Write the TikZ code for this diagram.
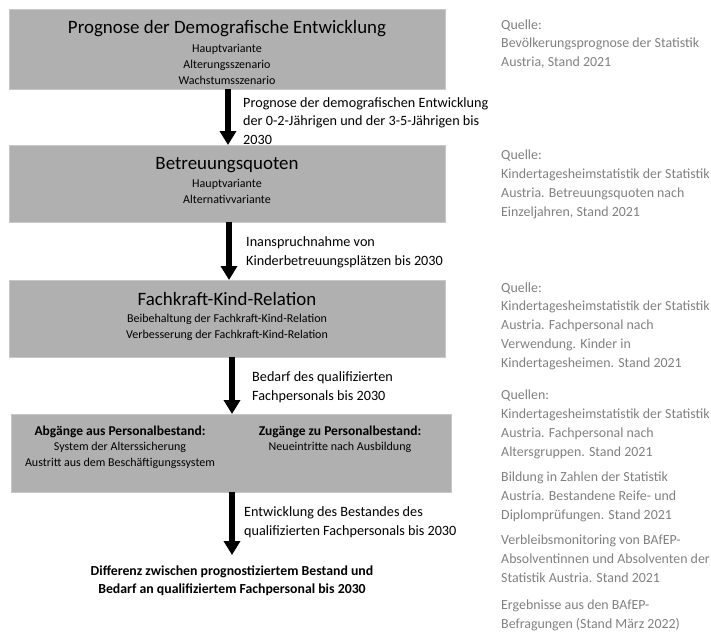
\documentclass[tikz,border=0pt]{standalone}
\usepackage{fontspec}
\setmainfont{Carlito}
\usetikzlibrary{arrows.meta}
\definecolor{boxgray}{RGB}{176,176,176}
\definecolor{srcgray}{RGB}{128,128,128}
\begin{document}
\begin{tikzpicture}[x=1pt,y=-1pt,
 box/.style={fill=boxgray, draw=boxgray!70!white, line width=0.6pt, inner sep=0pt, outer sep=0pt},
 ttl/.style={anchor=base, font=\fontsize{18.9}{22}\selectfont, inner sep=0pt},
 sub/.style={anchor=base, font=\fontsize{12}{16}\selectfont, inner sep=0pt, align=center},
 subb/.style={anchor=base, font=\fontsize{13.5}{16}\selectfont\bfseries, inner sep=0pt, align=center},
 lab/.style={anchor=base west, font=\fontsize{14.2}{18.2}\selectfont, inner sep=0pt, align=left},
 src/.style={anchor=base west, font=\fontsize{13.9}{18.7}\selectfont, text=srcgray, inner sep=0pt, align=left},
 flow/.style={line width=6pt, -{Triangle[width=16pt,length=14pt]}}]
\useasboundingbox (0,0) rectangle (711,633);
% boxes
\node[box, minimum width=436pt, minimum height=80pt] (b1) at (227,49) {};
\node[box, minimum width=436pt, minimum height=77pt] (b2) at (227,183.5) {};
\node[box, minimum width=436pt, minimum height=77pt] (b3) at (227,318.5) {};
\node[box, minimum width=440pt, minimum height=78pt] (b4) at (231,453) {};
% box texts (base anchor = baseline of last line)
\node[ttl] (t1) at (227,33) {Prognose der Demografische Entwicklung};
\node[sub] (s1) at (227,84) {Hauptvariante\\Alterungsszenario\\Wachstumsszenario};
\node[ttl] (t2) at (227,169) {Betreuungsquoten};
\node[sub] (s2) at (227,203) {Hauptvariante\\Alternativvariante};
\node[ttl] (t3) at (227,305) {Fachkraft-Kind-Relation};
\node[sub] (s3) at (227,338) {Beibehaltung der Fachkraft-Kind-Relation\\Verbesserung der Fachkraft-Kind-Relation};
\node[subb] (h4a) at (120,435) {Abgänge aus Personalbestand:};
\node[sub] (s4a) at (120,466) {System der Alterssicherung\\Austritt aus dem Beschäftigungssystem};
\node[subb] (h4b) at (340,435) {Zugänge zu Personalbestand:};
\node[sub] (s4b) at (340,450) {Neueintritte nach Ausbildung};
% result
\node[anchor=base, font=\fontsize{13.8}{18}\selectfont\bfseries, inner sep=0pt, align=center] (res) at (232,593) {Differenz zwischen prognostiziertem Bestand und\\Bedarf an qualifiziertem Fachpersonal bis 2030};
% arrows
\coordinate (e4) at (232,555);
\draw[flow] (b1.south -| 228,0) -- (b2.north -| 228,0);
\draw[flow] (b2.south -| 229,0) -- (b3.north -| 229,0);
\draw[flow] (b3.south -| 232,0) -- (b4.north -| 232,0);
\draw[flow] (b4.south -| 232,0) -- (e4);
% arrow labels
\node[lab] (l1) at (243,144) {Prognose der demografischen Entwicklung\\der 0-2-Jährigen und der 3-5-Jährigen bis\\2030};
\node[lab] (l2) at (246,265) {Inanspruchnahme von\\Kinderbetreuungsplätzen bis 2030};
\node[lab] (l3) at (252,400) {Bedarf des qualifizierten\\Fachpersonals bis 2030};
\node[lab] (l4) at (244,535) {Entwicklung des Bestandes des\\qualifizierten Fachpersonals bis 2030};
% sources
\node[src] (q1) at (501,66.4) {Quelle:\\Bevölkerungsprognose der Statistik\\Austria, Stand 2021};
\node[src] (q2) at (501,216) {Quelle:\\Kindertagesheimstatistik der Statistik\\Austria. Betreuungsquoten nach\\Einzeljahren, Stand 2021};
\node[src] (q3) at (501,367) {Quelle:\\Kindertagesheimstatistik der Statistik\\Austria. Fachpersonal nach\\Verwendung. Kinder in\\Kindertagesheimen. Stand 2021};
\node[src] (q4) at (501,456) {Quellen:\\Kindertagesheimstatistik der Statistik\\Austria. Fachpersonal nach\\Altersgruppen. Stand 2021};
\node[src] (q5) at (501,519) {Bildung in Zahlen der Statistik\\Austria. Bestandene Reife- und\\Diplomprüfungen. Stand 2021};
\node[src] (q6) at (501,582) {Verbleibsmonitoring von BAfEP-\\Absolventinnen und Absolventen der\\Statistik Austria. Stand 2021};
\node[src] (q7) at (501,628) {Ergebnisse aus den BAfEP-\\Befragungen (Stand März 2022)};
\end{tikzpicture}
\end{document}
